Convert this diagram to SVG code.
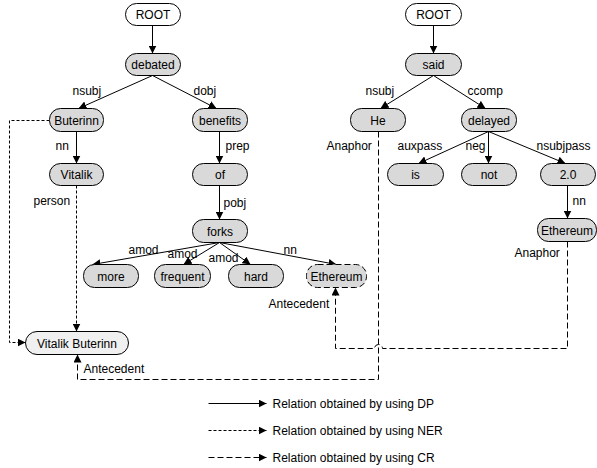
<svg xmlns="http://www.w3.org/2000/svg" width="597" height="468" viewBox="0 0 597 468">
<defs>
<marker id="ah" viewBox="0 0 10 10" refX="10" refY="5" markerWidth="8" markerHeight="8" markerUnits="userSpaceOnUse" orient="auto">
<path d="M0,0 L10,5 L0,10 z" fill="#000"/>
</marker>
</defs>
<style>
text{font-family:"Liberation Sans",Arial,sans-serif;font-size:12px;fill:#000}
.n rect{fill:#d9d9d9;stroke:#000;stroke-width:1}
.n text{text-anchor:middle}
.w rect{fill:#fff}
.lt rect{fill:#f0f0f0}
.dsh rect{stroke-dasharray:6,3}
.dp{fill:none;stroke:#000;stroke-width:1;marker-end:url(#ah)}
.ner{fill:none;stroke:#000;stroke-width:1;stroke-dasharray:3,2;marker-end:url(#ah)}
.cr{fill:none;stroke:#000;stroke-width:1;stroke-dasharray:6,3;marker-end:url(#ah)}
</style>
<g transform="translate(0.5,0.5)">
<g id="connectors">
<path class="dp" d="M152,25 V53"/>
<path class="dp" d="M152,75 L78,108"/>
<path class="dp" d="M152,75 L216,108"/>
<path class="dp" d="M76,131 V163"/>
<path class="dp" d="M219,131 V163"/>
<path class="dp" d="M219,185 V219"/>
<path class="dp" d="M219,242 L92,264"/>
<path class="dp" d="M219,242 L183,264"/>
<path class="dp" d="M219,242 L250,264"/>
<path class="dp" d="M219,242 L336,264"/>
<path class="dp" d="M433,25 V53"/>
<path class="dp" d="M433,75 L380,108"/>
<path class="dp" d="M433,75 L485,108"/>
<path class="dp" d="M488,131 L418,163"/>
<path class="dp" d="M488,131 V163"/>
<path class="dp" d="M488,131 L565,163"/>
<path class="dp" d="M567,185 V218"/>
<path class="ner" d="M49,120 H9 V342 H25"/>
<path class="ner" d="M76,185 V331"/>
<path class="cr" d="M378,131 V379 H77 V354"/>
<path class="cr" d="M567,241 V348 H382 A4,4 0 0 0 374,348 H335 V287"/>
<path class="dp" d="M208,403 H266"/>
<path class="ner" d="M208,430 H266"/>
<path class="cr" d="M208,457 H266"/>
</g>
<g id="labels">
<text x="72" y="94">nsubj</text>
<text x="193" y="94">dobj</text>
<text x="55" y="149">nn</text>
<text x="225" y="149">prep</text>
<text x="33" y="204">person</text>
<text x="223" y="206">pobj</text>
<text x="128" y="253">amod</text>
<text x="167" y="257">amod</text>
<text x="208" y="261">amod</text>
<text x="283" y="253">nn</text>
<text x="268" y="307">Antecedent</text>
<text x="83" y="372">Antecedent</text>
<text x="365" y="94">nsubj</text>
<text x="467" y="94">ccomp</text>
<text x="326" y="149">Anaphor</text>
<text x="397" y="149">auxpass</text>
<text x="465" y="149">neg</text>
<text x="536" y="149">nsubjpass</text>
<text x="572" y="204">nn</text>
<text x="514" y="256">Anaphor</text>
</g>
<g id="root1" class="n w"><rect x="125" y="3" width="55" height="22" rx="11"/><text x="152.5" y="18">ROOT</text></g>
<g id="debated" class="n"><rect x="125" y="53" width="55" height="22" rx="11"/><text x="152.5" y="68">debated</text></g>
<g id="buterinn" class="n"><rect x="49" y="108" width="54" height="23" rx="11"/><text x="76" y="124">Buterinn</text></g>
<g id="benefits" class="n"><rect x="192" y="108" width="55" height="23" rx="11"/><text x="219.5" y="124">benefits</text></g>
<g id="vitalik" class="n"><rect x="49" y="163" width="54" height="22" rx="11"/><text x="76" y="178">Vitalik</text></g>
<g id="of" class="n"><rect x="192" y="163" width="55" height="22" rx="11"/><text x="219.5" y="178">of</text></g>
<g id="forks" class="n"><rect x="192" y="219" width="55" height="23" rx="11"/><text x="219.5" y="235">forks</text></g>
<g id="more" class="n"><rect x="83" y="264" width="55" height="23" rx="11"/><text x="110.5" y="280">more</text></g>
<g id="frequent" class="n"><rect x="154" y="264" width="56" height="23" rx="11"/><text x="182" y="280">frequent</text></g>
<g id="hard" class="n"><rect x="228" y="264" width="55" height="23" rx="11"/><text x="255.5" y="280">hard</text></g>
<g id="ethereum1" class="n dsh"><rect x="306" y="264" width="60" height="23" rx="11"/><text x="336" y="280">Ethereum</text></g>
<g id="vitalikbuterinn" class="n lt"><rect x="25" y="331" width="103" height="23" rx="11.5"/><text x="76.5" y="347">Vitalik Buterinn</text></g>
<g id="root2" class="n w"><rect x="405" y="3" width="56" height="22" rx="11"/><text x="433" y="18">ROOT</text></g>
<g id="said" class="n"><rect x="405" y="53" width="56" height="22" rx="11"/><text x="433" y="68">said</text></g>
<g id="he" class="n"><rect x="350" y="108" width="55" height="23" rx="11"/><text x="377.5" y="124">He</text></g>
<g id="delayed" class="n"><rect x="461" y="108" width="55" height="23" rx="11"/><text x="488.5" y="124">delayed</text></g>
<g id="is" class="n"><rect x="387" y="163" width="56" height="22" rx="11"/><text x="415" y="178">is</text></g>
<g id="not" class="n"><rect x="461" y="163" width="55" height="22" rx="11"/><text x="488.5" y="178">not</text></g>
<g id="v20" class="n"><rect x="540" y="163" width="55" height="22" rx="11"/><text x="567.5" y="178">2.0</text></g>
<g id="ethereum2" class="n"><rect x="537" y="218" width="59" height="23" rx="11"/><text x="566.5" y="234">Ethereum</text></g>
<g id="legend">
<text x="272" y="407">Relation obtained by using DP</text>
<text x="272" y="434">Relation obtained by using NER</text>
<text x="272" y="461">Relation obtained by using CR</text>
</g>
</g>
</svg>
